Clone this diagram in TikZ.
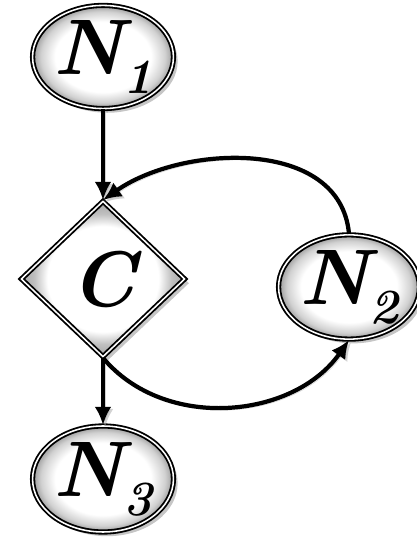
\documentclass[tikz,border=0pt]{standalone}
\usepackage{fontspec}
\usepackage{tikz}
\usetikzlibrary{arrows.meta,shapes.geometric,shadows}
\pgfdeclareradialshading{bevelround}{\pgfpoint{0bp}{0bp}}{color(0bp)=(white); color(17bp)=(white); color(22bp)=(black!18); color(25bp)=(black!40); color(50bp)=(black!40)}
\pgfdeclareradialshading{beveldiamond}{\pgfpoint{0bp}{0bp}}{color(0bp)=(white); color(17bp)=(white); color(21bp)=(black!25); color(25bp)=(black!35); color(50bp)=(black!35)}
\newcommand{\nlab}[1]{N\raisebox{-0.24em}{\fontsize{35}{36}\selectfont #1}}
\tikzset{
    >=Latex,
    every picture/.style={font=\fontsize{56}{60}\selectfont\bfseries\itshape},
    bubble/.style={ellipse, draw=black, line width=1.3pt, double=white, double distance=1.1pt, inner sep=0pt, shading=bevelround, drop shadow={shadow xshift=3pt, shadow yshift=-3pt, opacity=0.45}},
    decision/.style={diamond, aspect=1, draw=black, line width=1.3pt, double=white, double distance=1.1pt, inner sep=0pt, shading=beveldiamond, drop shadow={shadow xshift=3pt, shadow yshift=-3pt, opacity=0.45}},
    flow/.style={-{Latex[length=13pt,width=12pt]}, line width=3pt, draw=black, preaction={draw=black!35, opacity=0.5, transform canvas={shift={(1.5pt,-1.5pt)}}}}
}
\begin{document}
\begin{tikzpicture}
\useasboundingbox (0,0) rectangle (10.425,13.425);
\node[bubble, minimum width=2.95cm, minimum height=2.5cm] (n1) at (2.575,12.0) {\nlab{1}};
\node[decision, minimum width=4.1cm, minimum height=3.9cm] (c) at (2.575,6.45) {C};
\node[bubble, minimum width=2.7cm, minimum height=2.5cm] (n2) at (8.725,6.25) {\nlab{2}};
\node[bubble, minimum width=2.9cm, minimum height=2.65cm] (n3) at (2.575,1.45) {\nlab{3}};
\draw[flow] (n1) -- (c.north);
\draw[flow] (c.south) -- (n3);
\draw[flow] (n2.north) to[out=95, in=35] (c.north);
\draw[flow] (c.south) to[out=-50, in=235] (n2.south);
\end{tikzpicture}
\end{document}
